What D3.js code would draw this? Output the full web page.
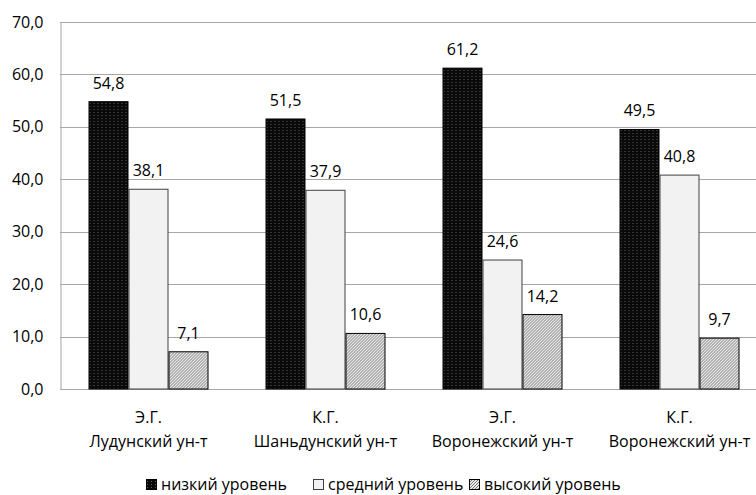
<!DOCTYPE html>
<html>
<head>
<meta charset="utf-8">
<script src="https://cdn.jsdelivr.net/npm/d3@7/dist/d3.min.js"></script>
<style>
  html, body { margin: 0; padding: 0; background: #fff; }
  svg { display: block; }
  text { font-family: "Open Sans", "DejaVu Sans", sans-serif; fill: #000; }
</style>
</head>
<body>
<svg id="chart" width="756" height="495"></svg>
<script>
// Groups along the x axis: two-line labels
const groupTop = ["Э.Г.", "К.Г.", "Э.Г.", "К.Г."];
const groupBottom = ["Лудунский ун-т", "Шаньдунский ун-т", "Воронежский ун-т", "Воронежский ун-т"];

// Series (percent)
const seriesNames = ["низкий уровень", "средний уровень", "высокий уровень"];
const lowLevel = [54.8, 51.5, 61.2, 49.5];
const midLevel = [38.1, 37.9, 24.6, 40.8];
const highLevel = [7.1, 10.6, 14.2, 9.7];

const yTicks = [0, 10, 20, 30, 40, 50, 60, 70];

const series = [lowLevel, midLevel, highLevel];
const fmt = v => v.toFixed(1).replace(".", ",");
const fontSize = "16px";

const svg = d3.select("#chart");

// Fill patterns
const defs = svg.append("defs");
const pDark = defs.append("pattern").attr("id", "pDark")
  .attr("patternUnits", "userSpaceOnUse").attr("width", 4).attr("height", 3);
pDark.append("rect").attr("width", 4).attr("height", 3).attr("fill", "#0a0a0a");
pDark.append("rect").attr("x", 1).attr("y", 1).attr("width", 1).attr("height", 1).attr("fill", "#5e5e5e");

const pHatch = defs.append("pattern").attr("id", "pHatch")
  .attr("patternUnits", "userSpaceOnUse").attr("width", 3).attr("height", 3);
pHatch.append("rect").attr("width", 3).attr("height", 3).attr("fill", "#e8e8e8");
pHatch.append("path").attr("d", "M0,3 L3,0 M-1,1 L1,-1 M2,4 L4,2")
  .attr("stroke", "#7a7a7a").attr("stroke-width", 1);

const fills = ["url(#pDark)", "#f2f2f2", "url(#pHatch)"];
const strokes = ["#000", "#404040", "#000"];

// Plot area
const plotLeft = 60, plotTop = 22, plotBottom = 389;
const groupStep = 177;
const x = d3.scaleBand().domain(d3.range(groupTop.length))
  .range([plotLeft, plotLeft + groupStep * groupTop.length]).paddingInner(0).paddingOuter(0);
const y = d3.scaleLinear().domain([0, 70]).range([plotBottom, plotTop]);
const xs = d3.scaleBand().domain(d3.range(series.length)).range([0, 120]);

// Gridlines
svg.append("g").selectAll("line").data(yTicks.filter(t => t > 0)).join("line")
  .attr("x1", plotLeft).attr("x2", 756)
  .attr("y1", d => Math.round(y(d)) + 0.5).attr("y2", d => Math.round(y(d)) + 0.5)
  .attr("stroke", "#a6a6a6").attr("stroke-width", 1);

// Y axis
const yAxis = d3.axisLeft(y).tickValues(yTicks).tickFormat(fmt).tickSize(0).tickPadding(17);
const gy = svg.append("g").attr("transform", `translate(${plotLeft + 0.5},0)`).call(yAxis);
gy.select(".domain").attr("stroke", "#a6a6a6");
gy.selectAll("text").style("font-size", fontSize).style("font-family", '"Open Sans", sans-serif').attr("fill", "#000");

// Baseline
svg.append("line").attr("x1", plotLeft).attr("x2", 756)
  .attr("y1", plotBottom + 0.5).attr("y2", plotBottom + 0.5).attr("stroke", "#a6a6a6");

// Bars with value labels
const groups = svg.append("g").selectAll("g").data(groupTop).join("g")
  .attr("transform", (d, i) => `translate(${x(i) + (x.bandwidth() - 120) / 2},0)`);

groups.each(function(_, gi) {
  const g = d3.select(this);
  series.forEach((s, si) => {
    const v = s[gi];
    g.append("rect")
      .attr("x", xs(si) + 0.5).attr("y", y(v))
      .attr("width", xs.bandwidth() - 1).attr("height", plotBottom - y(v))
      .attr("fill", fills[si]).attr("stroke", strokes[si]).attr("stroke-width", 1);
    g.append("text")
      .attr("x", xs(si) + xs.bandwidth() / 2).attr("y", y(v) - 13)
      .attr("text-anchor", "middle").style("font-size", fontSize)
      .text(fmt(v));
  });
});

// Category labels
const cat = svg.append("g").selectAll("g").data(groupTop).join("g")
  .attr("transform", (d, i) => `translate(${x(i) + x.bandwidth() / 2},0)`);
cat.append("text").attr("y", 423).attr("text-anchor", "middle")
  .style("font-size", fontSize).text(d => d);
cat.append("text").attr("y", 447).attr("text-anchor", "middle")
  .style("font-size", fontSize).text((d, i) => groupBottom[i]);

// Legend
const legendX = [146, 313, 469];
const leg = svg.append("g").selectAll("g").data(seriesNames).join("g")
  .attr("transform", (d, i) => `translate(${legendX[i]},0)`);
leg.append("rect").attr("x", 0.5).attr("y", 479.5).attr("width", 10).attr("height", 10)
  .attr("fill", (d, i) => fills[i]).attr("stroke", (d, i) => strokes[i]);
leg.append("text").attr("x", 15).attr("y", 490)
  .style("font-size", fontSize).text(d => d);
</script>
</body>
</html>
